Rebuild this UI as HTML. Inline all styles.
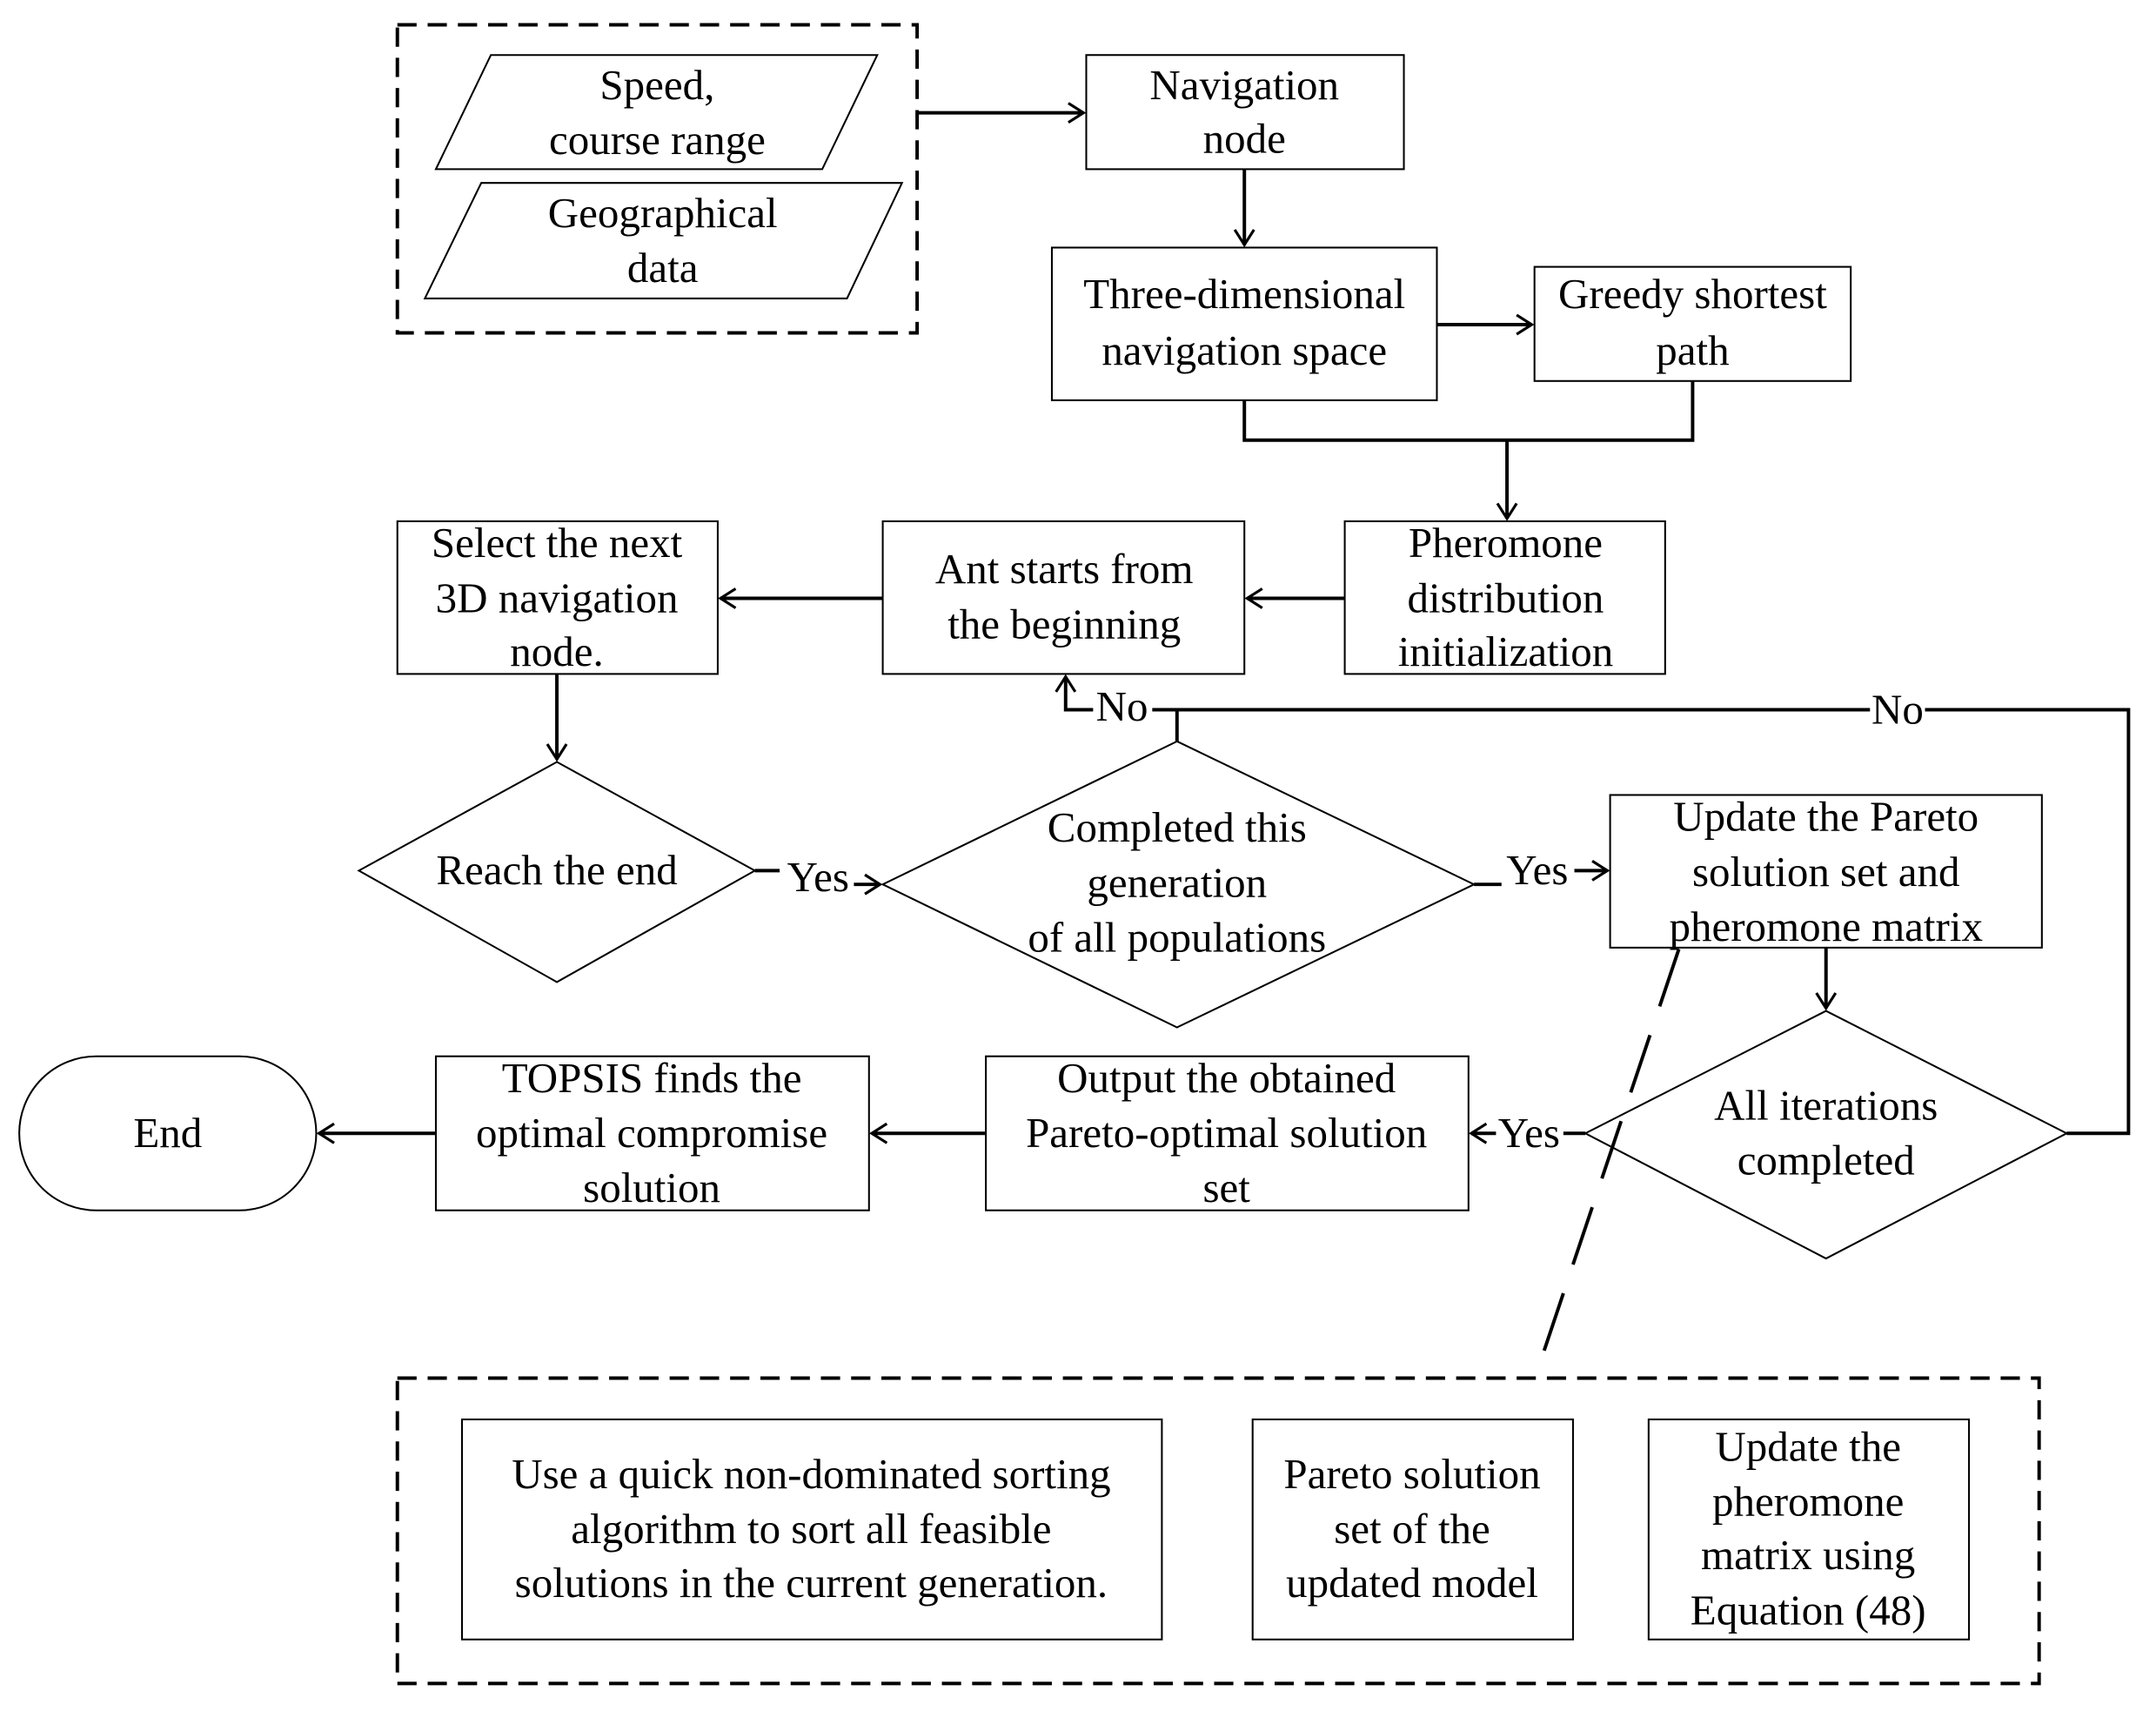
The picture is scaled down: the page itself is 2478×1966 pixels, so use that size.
<!DOCTYPE html>
<html><head><meta charset="utf-8"><style>
html,body{margin:0;padding:0;background:#fff;}
svg{display:block;}
text{font-family:"Liberation Serif",serif;font-size:31px;fill:#000;text-anchor:middle;}
</style></head><body>
<svg width="2478" height="1966" viewBox="0 0 1568 1244" xmlns="http://www.w3.org/2000/svg">
<defs>
<marker id="a" markerWidth="16" markerHeight="16" refX="13" refY="8" orient="auto" markerUnits="userSpaceOnUse">
<path d="M2,1 L13,8 L2,15" fill="none" stroke="#000" stroke-width="2"/></marker>
</defs>
<g fill="none" stroke="#000" stroke-width="1.3">
<rect x="289" y="18" width="378" height="224" stroke-width="2.5" stroke-dasharray="14,8"/>
<polygon points="357,40 638,40 598,123 317,123"/>
<polygon points="350,133 656,133 616,217 309,217"/>
<rect x="790" y="40" width="231" height="83"/>
<rect x="765" y="180" width="280" height="111"/>
<rect x="1116" y="194" width="230" height="83"/>
<rect x="978" y="379" width="233" height="111"/>
<rect x="642" y="379" width="263" height="111"/>
<rect x="289" y="379" width="233" height="111"/>
<polygon points="405,554 549,633 405,714 261,633"/>
<polygon points="856,539 1072,643 856,747 642,643"/>
<rect x="1171" y="578" width="314" height="111"/>
<polygon points="1328,735 1503,824 1328,915 1153,824"/>
<rect x="717" y="768" width="351" height="112"/>
<rect x="317" y="768" width="315" height="112"/>
<rect x="14" y="768" width="216" height="112" rx="56"/>
<rect x="289" y="1002" width="1194" height="222" stroke-width="2.5" stroke-dasharray="14,8"/>
<rect x="336" y="1032" width="509" height="160"/>
<rect x="911" y="1032" width="233" height="160"/>
<rect x="1199" y="1032" width="233" height="160"/>
</g>
<g fill="none" stroke="#000" stroke-width="2.5">
<path d="M667,82 H788" marker-end="url(#a)"/>
<path d="M905,123 V178" marker-end="url(#a)"/>
<path d="M1045,236 H1114" marker-end="url(#a)"/>
<path d="M905,291 V320 H1231 V277"/>
<path d="M1096,320 V377" marker-end="url(#a)"/>
<path d="M978,435 H907" marker-end="url(#a)"/>
<path d="M642,435 H524" marker-end="url(#a)"/>
<path d="M405,490 V552" marker-end="url(#a)"/>
<path d="M549,633 H567"/>
<path d="M621,643 H640" marker-end="url(#a)"/>
<path d="M856,539 V516 H838"/>
<path d="M795,516 H775 V492" marker-end="url(#a)"/>
<path d="M856,516 H1360"/>
<path d="M1400,516 H1548 V824 H1503"/>
<path d="M1072,643 H1092"/>
<path d="M1145,633 H1169" marker-end="url(#a)"/>
<path d="M1328,689 V733" marker-end="url(#a)"/>
<path d="M1153,824 H1137"/>
<path d="M1088,824 H1070" marker-end="url(#a)"/>
<path d="M717,824 H634" marker-end="url(#a)"/>
<path d="M317,824 H232" marker-end="url(#a)"/>
<path d="M1221,690 L1122,985" stroke-dasharray="44,22"/>
</g>
<g>
<text x="478" y="72">Speed,</text><text x="478" y="112">course range</text>
<text x="482" y="165">Geographical</text><text x="482" y="205">data</text>
<text x="905" y="72">Navigation</text><text x="905" y="111">node</text>
<text x="905" y="224">Three-dimensional</text><text x="905" y="265">navigation space</text>
<text x="1231" y="224">Greedy shortest</text><text x="1231" y="265">path</text>
<text x="1095" y="405">Pheromone</text><text x="1095" y="445">distribution</text><text x="1095" y="484">initialization</text>
<text x="774" y="424">Ant starts from</text><text x="774" y="464">the beginning</text>
<text x="405" y="405">Select the next</text><text x="405" y="445">3D navigation</text><text x="405" y="484">node.</text>
<text x="405" y="643">Reach the end</text>
<text x="595" y="648">Yes</text>
<text x="856" y="612">Completed this</text><text x="856" y="652">generation</text><text x="856" y="692">of all populations</text>
<text x="816" y="524">No</text>
<text x="1380" y="526">No</text>
<text x="1118" y="643">Yes</text>
<text x="1328" y="604">Update the Pareto</text><text x="1328" y="644">solution set and</text><text x="1328" y="684">pheromone matrix</text>
<text x="1328" y="814">All iterations</text><text x="1328" y="854">completed</text>
<text x="1112" y="834">Yes</text>
<text x="892" y="794">Output the obtained</text><text x="892" y="834">Pareto-optimal solution</text><text x="892" y="874">set</text>
<text x="474" y="794">TOPSIS finds the</text><text x="474" y="834">optimal compromise</text><text x="474" y="874">solution</text>
<text x="122" y="834">End</text>
<text x="590" y="1082">Use a quick non-dominated sorting</text><text x="590" y="1122">algorithm to sort all feasible</text><text x="590" y="1161">solutions in the current generation.</text>
<text x="1027" y="1082">Pareto solution</text><text x="1027" y="1122">set of the</text><text x="1027" y="1161">updated model</text>
<text x="1315" y="1062">Update the</text><text x="1315" y="1102">pheromone</text><text x="1315" y="1141">matrix using</text><text x="1315" y="1181">Equation (48)</text>
</g>
</svg>
</body></html>
